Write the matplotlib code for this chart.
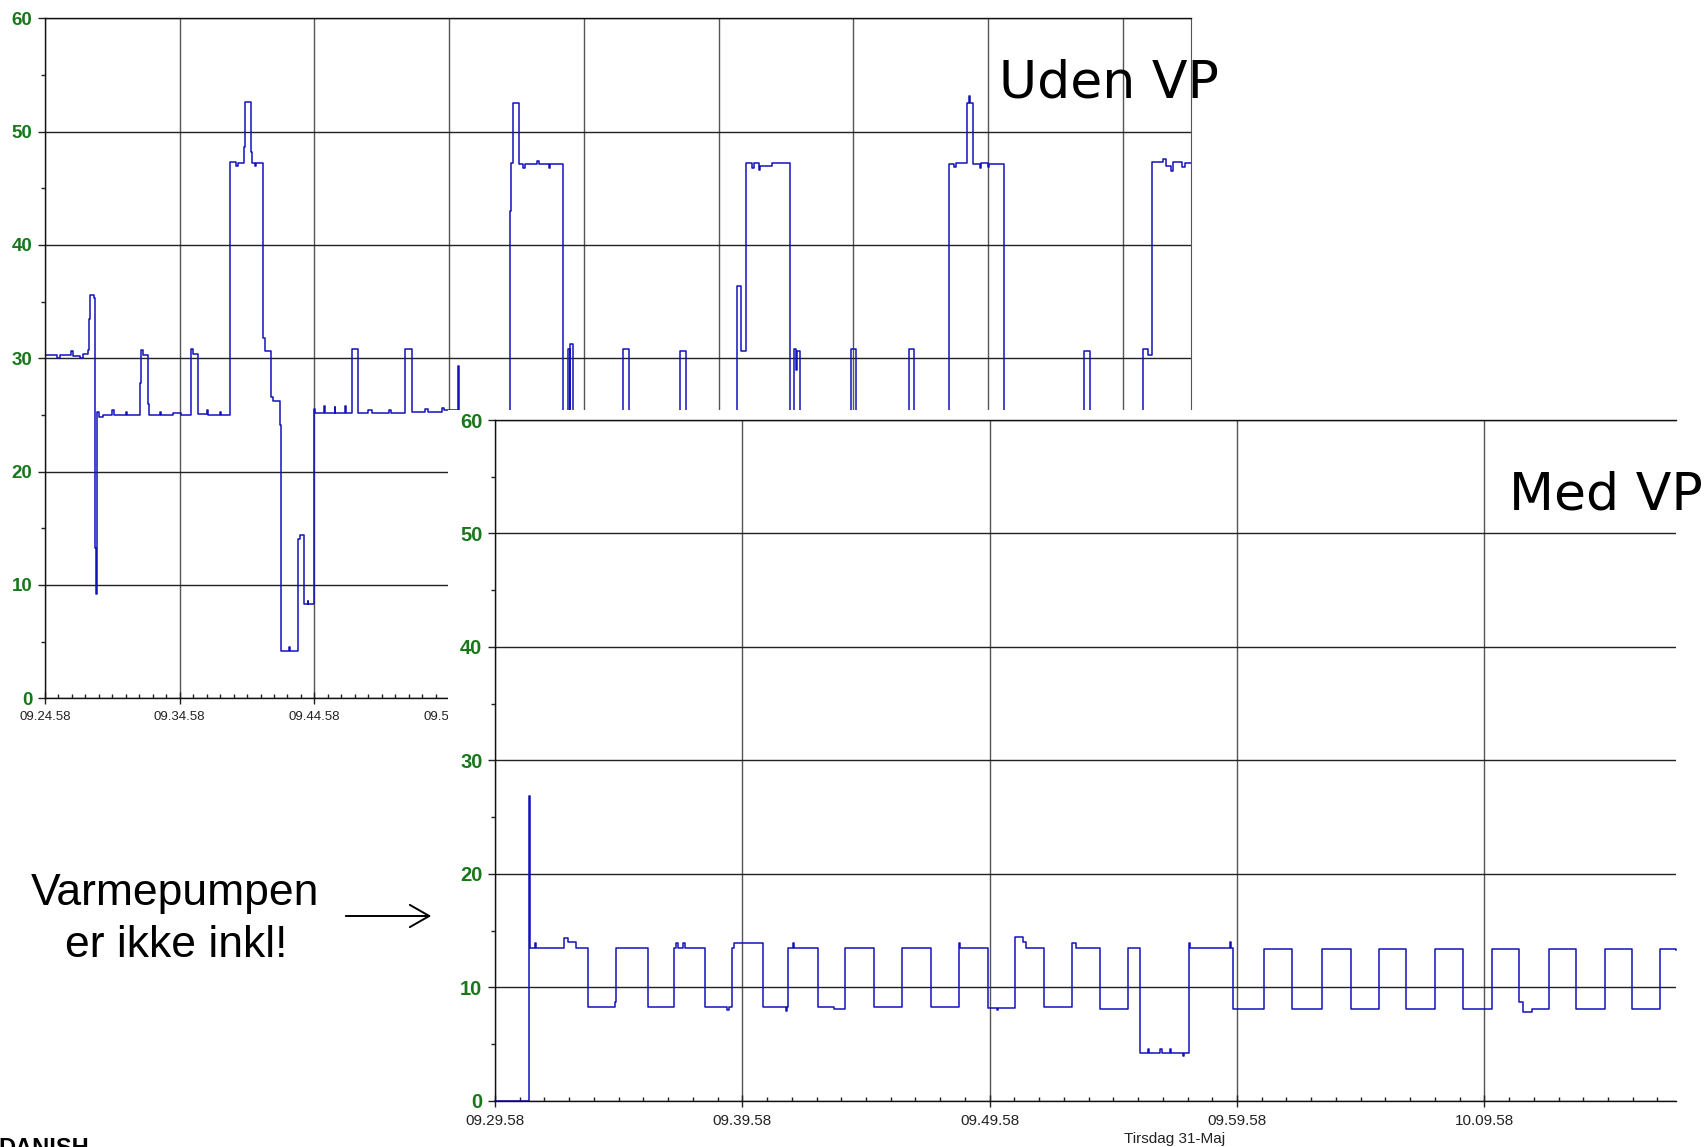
import matplotlib
matplotlib.use("Agg")
import matplotlib.pyplot as plt
from matplotlib.patches import Rectangle, FancyArrowPatch

W, H = 1706, 1147
DPI = 100

plt.rcParams["font.family"] = ["Liberation Sans", "DejaVu Sans"]

# Top chart ("Uden VP"): minutes after 09.24.58 and power value (step trace)
TOP_T = [0.0, 0.9, 1.1, 1.9, 2.1, 2.6, 2.8, 3.22, 3.28, 3.33, 3.62, 3.68, 3.77, 3.85,
         4.0, 4.3, 5.0, 5.1, 6.0, 6.1, 7.05, 7.10, 7.3, 7.62, 7.7, 8.5, 8.6, 9.5,
         10.1, 10.87, 11.0, 11.38, 12.0, 12.1, 13.0, 13.1, 13.76, 14.2, 14.3, 14.74,
         14.82, 15.27, 15.33, 15.6, 15.7, 16.18, 16.3, 16.74, 16.95, 17.45, 17.55,
         18.1, 18.15, 18.75, 18.95, 19.2, 19.5, 19.55, 19.95, 20.05, 20.7, 20.75,
         21.5, 21.55, 22.3, 22.35, 22.8, 23.26, 24.0, 24.3, 25.5, 25.7, 26.73, 27.22,
         28.2, 28.4, 29.5, 29.6, 30.68, 30.72, 34.55, 34.6, 34.72, 35.17, 35.5, 35.6,
         36.5, 36.7, 37.4, 37.5, 38.45, 38.8, 38.95, 39.0, 39.2, 42.93, 43.38, 47.14,
         47.59, 51.35, 51.7, 52.02, 52.5, 52.6, 53.0, 53.1, 54.0, 55.34, 55.6, 55.75,
         55.8, 56.05, 59.81, 60.2, 64.17, 64.54, 67.07, 67.5, 67.6, 68.42, 68.6,
         68.65, 68.9, 69.4, 69.5, 70.0, 70.1, 71.2, 77.13, 77.58, 81.5, 81.9, 82.15,
         83.0, 83.2, 83.6, 83.7, 84.4, 84.6, 85.1]
TOP_V = [30.3, 30.0, 30.3, 30.6, 30.2, 30.0, 30.4, 30.7, 33.5, 35.6, 35.3, 13.3, 9.2, 25.3,
         24.8, 25.0, 25.4, 25.0, 25.3, 25.0, 27.8, 30.7, 30.3, 26.0, 25.0, 25.3, 25.0, 25.2,
         25.0, 30.8, 30.4, 25.1, 25.4, 25.0, 25.3, 25.0, 47.3, 47.0, 47.2, 48.6,
         52.6, 48.2, 47.2, 47.0, 47.2, 31.8, 30.6, 26.6, 26.2, 24.1, 4.2,
         4.5, 4.2, 14.1, 14.4, 8.3, 8.6, 8.3, 25.5, 25.2, 25.8, 25.2,
         25.7, 25.2, 25.8, 25.2, 30.8, 25.2, 25.4, 25.2, 25.4, 25.2, 30.8, 25.3,
         25.5, 25.3, 25.6, 25.4, 29.3, 25.3, 43.0, 47.2, 52.5, 47.1, 46.8, 47.1,
         47.4, 47.1, 46.8, 47.1, 25.2, 30.8, 25.2, 31.3, 25.2, 30.8, 25.2, 30.6,
         25.2, 36.4, 30.6, 47.2, 46.8, 47.2, 46.6, 47.0, 47.2, 25.2, 30.8, 29.0,
         30.6, 25.2, 30.8, 25.2, 30.8, 25.2, 47.1, 46.9, 47.2, 52.5, 53.1,
         52.5, 47.1, 46.8, 47.2, 46.9, 47.1, 25.2, 30.6, 25.2, 30.8, 30.3, 47.3,
         47.6, 47.0, 46.5, 47.3, 46.9, 47.2, 47.2]

# Bottom chart ("Med VP"): minutes after 09.29.58
BOT_T = [0.0, 1.39, 1.42, 1.6, 1.65, 2.80, 2.95, 3.26, 3.77, 4.85, 4.89, 6.20, 7.25, 7.3,
         7.4, 7.6, 7.7, 8.49, 9.4, 9.45, 9.57, 9.65, 10.82, 11.75, 11.8, 11.86, 12.05,
         12.1, 13.07, 13.7, 14.15, 15.34, 16.44, 17.62, 18.76, 18.8, 19.92, 20.3,
         20.35, 21.03, 21.36, 21.46, 22.21, 23.32, 23.5, 24.46, 25.61, 26.06, 26.4,
         26.45, 26.9, 26.95, 27.3, 27.35, 27.8, 27.85, 28.05, 28.1, 28.3, 29.7, 29.75,
         29.85, 31.10, 32.22, 33.42, 34.59, 35.76, 36.85, 38.02, 39.13, 40.31, 41.40,
         41.55, 41.94, 42.62, 43.71, 44.88, 45.97, 47.11, 47.75]
BOT_V = [0.0, 26.9, 13.5, 13.9, 13.5, 14.3, 14.0, 13.5, 8.3, 8.7, 13.5, 8.3, 13.5, 13.9,
         13.5, 13.9, 13.5, 8.3, 8.0, 8.3, 13.5, 13.9, 8.3, 7.9, 8.3, 13.5, 13.9,
         13.5, 8.3, 8.1, 13.5, 8.3, 13.5, 8.3, 13.9, 13.5, 8.2, 8.0,
         8.2, 14.4, 14.0, 13.5, 8.3, 13.9, 13.5, 8.1, 13.5, 4.2, 4.6,
         4.2, 4.6, 4.2, 4.6, 4.2, 3.9, 4.2, 13.9, 13.5, 13.5, 14.0, 13.5,
         8.1, 13.4, 8.1, 13.4, 8.1, 13.4, 8.1, 13.4, 8.1, 13.4, 8.7,
         7.8, 8.1, 13.4, 8.1, 13.4, 8.1, 13.4, 13.3]

TOP_XTICK_LABELS = ["09.24.58", "09.34.58", "09.44.58", "09.54.58", "10.04.58",
                    "10.14.58", "10.24.58", "10.34.58", "10.44.58"]
BOT_XTICK_LABELS = ["09.29.58", "09.39.58", "09.49.58", "09.59.58", "10.09.58"]
YTICKS = [0, 10, 20, 30, 40, 50, 60]

TRACE = "#1212bb"
GREEN = "#17781a"


def fx(px):
    return px / W


def fy(py):
    return 1 - py / H


def style_axes(ax, xlabels, xsize, ysize, xmax, right_spine):
    ax.set_xlim(0, xmax)
    ax.set_ylim(0, 60)
    ax.set_xticks([10 * i for i in range(len(xlabels))], labels=xlabels,
                  fontsize=xsize, color="#222222")
    ax.set_xticks(range(0, int(xmax) + 1), minor=True)
    ax.set_yticks(YTICKS, labels=[str(v) for v in YTICKS], fontsize=ysize,
                  fontweight="bold", color=GREEN)
    ax.set_yticks(range(5, 60, 10), minor=True)
    ax.tick_params(axis="x", which="major", direction="inout", length=9, width=1,
                   color="#222222", pad=5)
    ax.tick_params(axis="x", which="minor", direction="in", length=3, width=1,
                   color="#222222")
    ax.tick_params(axis="y", which="major", direction="out", length=5, width=1,
                   color="#222222", pad=4)
    ax.tick_params(axis="y", which="minor", direction="out", length=3, width=1,
                   color="#222222")
    ax.xaxis.grid(True, which="major", color="#555555", lw=1.0)
    ax.yaxis.grid(True, which="major", color="#222222", lw=1.0)
    ax.set_axisbelow(True)
    for side in ("left", "bottom", "top"):
        ax.spines[side].set_color("#111111")
        ax.spines[side].set_linewidth(1.0)
    ax.spines["right"].set_visible(right_spine)
    ax.spines["right"].set_color("#555555")


fig = plt.figure(figsize=(W / DPI, H / DPI), dpi=DPI)

# top chart
ax_top = fig.add_axes([fx(45), fy(698.3), fx(1191) - fx(45), fy(18.3) - fy(698.3)])
ax_top.set_zorder(1)
ax_top.step(TOP_T, TOP_V, where="post", color=TRACE, lw=1.1)
style_axes(ax_top, TOP_XTICK_LABELS, 9.5, 13.5, 85.07, True)

# white backing of the pasted second chart
fig.add_artist(Rectangle((fx(448), 0), 1 - fx(448), fy(410), transform=fig.transFigure,
                         facecolor="white", edgecolor="none", zorder=2))

# bottom chart
ax_bot = fig.add_axes([fx(495), fy(1100.7), fx(1676) - fx(495), fy(420) - fy(1100.7)])
ax_bot.set_zorder(3)
ax_bot.step(BOT_T, BOT_V, where="post", color=TRACE, lw=1.1, clip_on=False)
style_axes(ax_bot, BOT_XTICK_LABELS, 11, 14.5, 47.75, False)
fig.text(fx(1175), fy(1143), "Tirsdag 31-Maj", fontsize=11, color="#222222",
         ha="center", va="baseline", zorder=4)

# slide annotations
fig.text(fx(999), fy(97), "Uden VP", family="DejaVu Sans", fontsize=37.5,
         ha="left", va="baseline", zorder=5)
fig.text(fx(1703), fy(510), "Med VP", family="DejaVu Sans", fontsize=37.5,
         ha="right", va="baseline", zorder=5)
fig.text(fx(175), fy(905), "Varmepumpen", fontsize=32, ha="center", va="baseline")
fig.text(fx(176), fy(957), "er ikke inkl!", fontsize=32, ha="center", va="baseline")
fig.add_artist(FancyArrowPatch((fx(343), fy(916)), (fx(434), fy(916)),
                               transform=fig.transFigure,
                               arrowstyle="->,head_length=0.7,head_width=0.4",
                               mutation_scale=20, lw=1.4, color="black", zorder=5))
fig.text(fx(-2), fy(1137), "DANISH", fontsize=17, fontweight="bold",
         ha="left", va="top")

fig.savefig("out.png", dpi=DPI, facecolor="white")
